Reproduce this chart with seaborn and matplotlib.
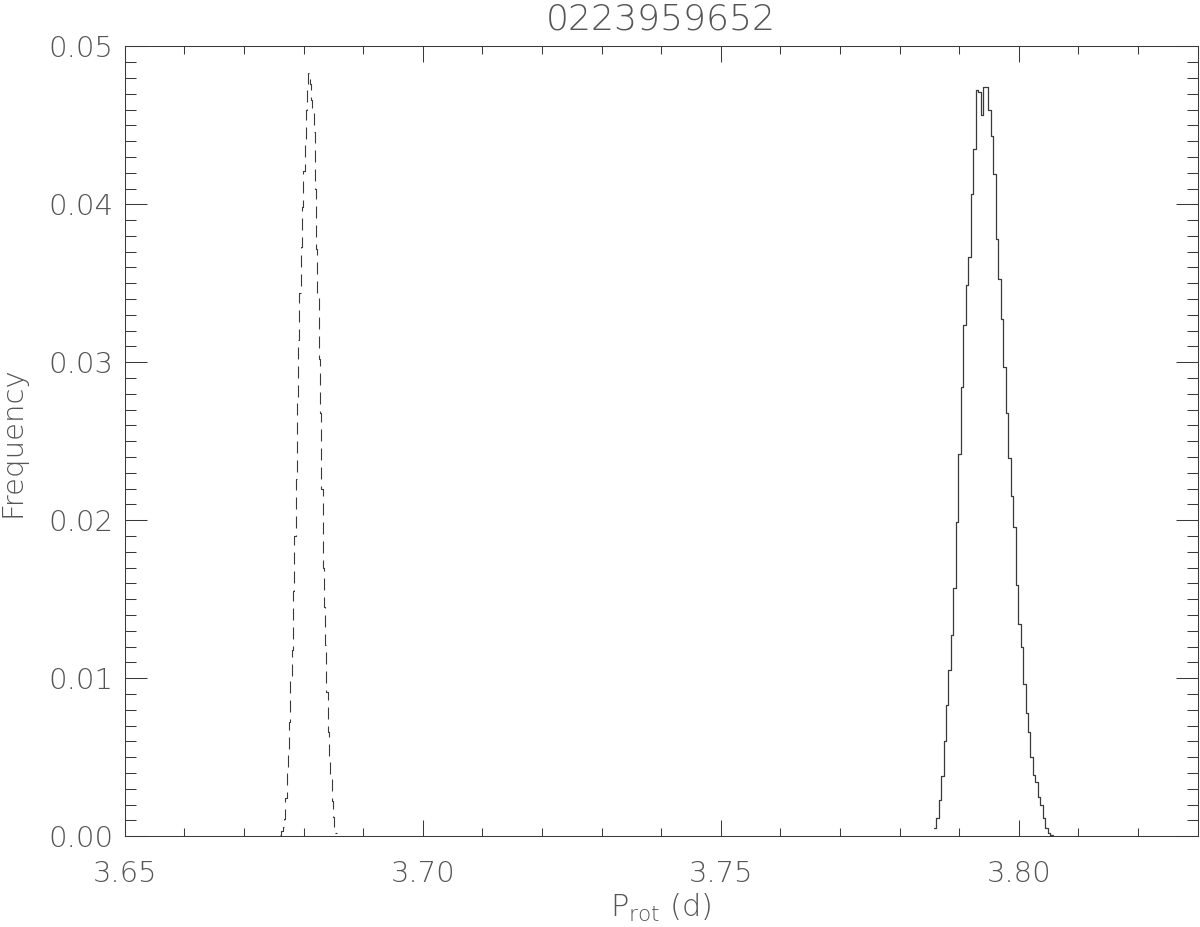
import numpy as np
import pandas as pd
import seaborn as sns
import matplotlib
matplotlib.use("Agg")
import matplotlib.pyplot as plt
from matplotlib.ticker import MultipleLocator, FormatStrFormatter

OUTPUT_FILE_NAME = "out.png"

TITLE = "0223959652"

# solid histogram (second period solution)
solid_start = 3.7857
solid_width = 0.000417
solid_freq = [0.00049, 0.00112, 0.00232, 0.00382, 0.00603, 0.00829, 0.0105, 0.01276,
              0.01568, 0.01989, 0.02422, 0.02844, 0.03234, 0.03491, 0.03666, 0.04063,
              0.04348, 0.04722, 0.0471, 0.04568, 0.04743, 0.0474, 0.04595, 0.04432,
              0.0419, 0.03783, 0.03525, 0.03277, 0.0297, 0.02679, 0.02394, 0.02154,
              0.01954, 0.01589, 0.0134, 0.01198, 0.00966, 0.0078, 0.0066, 0.00498,
              0.0039, 0.00344, 0.00249, 0.00196, 0.00112, 0.00049, 0.00017, 0.00008]

# dashed histogram (first period solution)
dashed_start = 3.67606
dashed_width = 0.000216
dashed_freq = [0.0001, 0.0003, 0.0006, 0.0011, 0.0024, 0.0040, 0.0052, 0.0072, 0.0099, 0.0118,
               0.0155, 0.0190, 0.0226, 0.0277, 0.0314, 0.0344, 0.0373, 0.0398, 0.0421, 0.0441,
               0.0460, 0.0474, 0.0483, 0.0476, 0.0466, 0.0460, 0.0446, 0.0410, 0.0372, 0.0343,
               0.0302, 0.0268, 0.0220, 0.0170, 0.0145, 0.0121, 0.0091, 0.0066, 0.0050, 0.0036,
               0.0022, 0.0012, 0.0006, 0.0002]


def hist_table(start, width, freq):
    edges = start + width * np.arange(len(freq) + 1)
    centers = (edges[:-1] + edges[1:]) / 2
    return pd.DataFrame({"P": centers, "f": freq}), [float(e) for e in edges]


if __name__ == "__main__":
    sns.set_theme(style="ticks")
    plt.rcParams["font.family"] = ["DejaVu Sans"]
    plt.rcParams["mathtext.fontset"] = "dejavusans"

    TEXT_COLOR = "#555555"
    LINE_COLOR = "#3a3a3a"

    fig = plt.figure(figsize=(12, 9.27), dpi=100)
    ax = fig.add_axes([0.104, 0.098, 0.894, 0.852])

    solid_df, solid_edges = hist_table(solid_start, solid_width, solid_freq)
    dashed_df, dashed_edges = hist_table(dashed_start, dashed_width, dashed_freq)

    sns.histplot(data=solid_df, x="P", weights="f", bins=solid_edges, element="step",
                 fill=False, color=LINE_COLOR, linewidth=0.9, ax=ax)
    sns.histplot(data=dashed_df, x="P", weights="f", bins=dashed_edges, element="step",
                 fill=False, color=LINE_COLOR, linewidth=0.8, linestyle=(0, (10.8, 6.3)), ax=ax)

    ax.set_xlim(3.65, 3.83)
    ax.set_ylim(0, 0.05)
    ax.xaxis.set_major_locator(MultipleLocator(0.05))
    ax.xaxis.set_minor_locator(MultipleLocator(0.01))
    ax.yaxis.set_major_locator(MultipleLocator(0.01))
    ax.yaxis.set_minor_locator(MultipleLocator(0.001))
    ax.xaxis.set_major_formatter(FormatStrFormatter("%.2f"))
    ax.yaxis.set_major_formatter(FormatStrFormatter("%.2f"))

    ax.tick_params(axis="both", which="both", direction="in", top=True, right=True,
                   color=LINE_COLOR, width=0.75, labelcolor=TEXT_COLOR, labelsize=21)
    ax.tick_params(axis="y", which="major", length=15.5, pad=8)
    ax.tick_params(axis="y", which="minor", length=8)
    ax.tick_params(axis="x", which="major", length=11.5, pad=17)
    ax.tick_params(axis="x", which="minor", length=5.8)
    for lab in ax.get_xticklabels() + ax.get_yticklabels():
        lab.set_fontweight("light")

    for spine in ax.spines.values():
        spine.set_visible(True)
        spine.set_color(LINE_COLOR)
        spine.set_linewidth(0.75)

    ax.set_title(TITLE, fontsize=26, color=TEXT_COLOR, fontweight="light", pad=12)
    ax.set_xlabel(r"P$_\mathregular{rot}$ (d)", fontsize=22, color=TEXT_COLOR,
                  fontweight="light", labelpad=3)
    ax.set_ylabel("Frequency", fontsize=21, color=TEXT_COLOR, fontweight="light", labelpad=16)

    plt.savefig(OUTPUT_FILE_NAME, dpi=100)
